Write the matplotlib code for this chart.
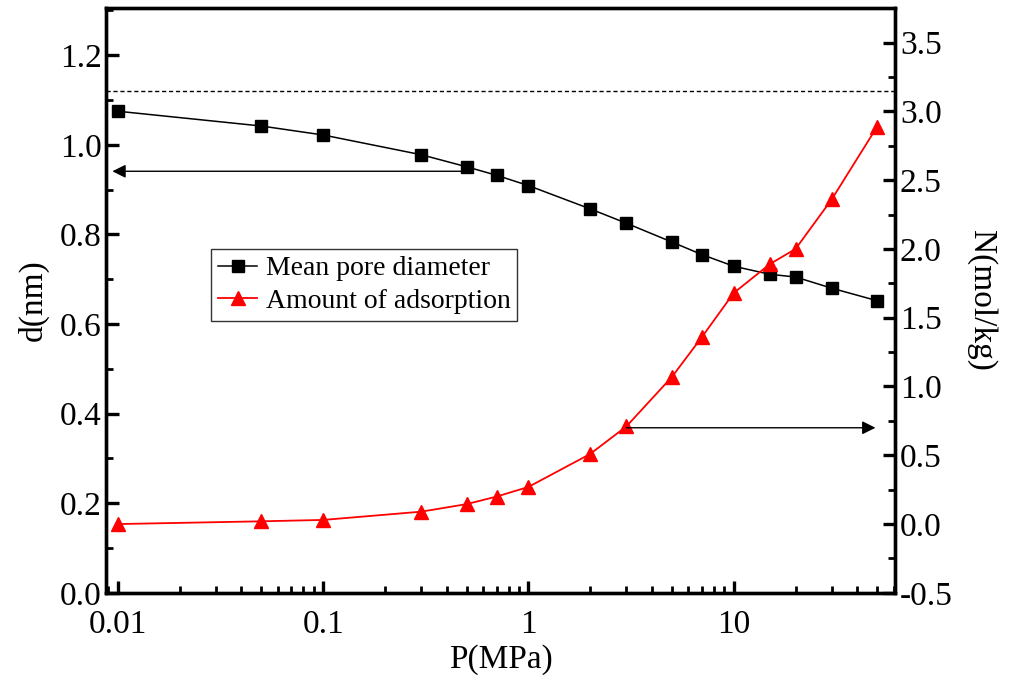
import matplotlib
matplotlib.use("Agg")
import matplotlib.pyplot as plt
from matplotlib.ticker import MultipleLocator, FixedLocator, NullFormatter, FixedFormatter, FuncFormatter

plt.rcParams['font.family'] = ['Liberation Serif', 'DejaVu Serif']

pressure = [0.01, 0.05, 0.1, 0.3, 0.5, 0.7, 1, 2, 3, 5, 7, 10, 15, 20, 30, 50]
diameter = [1.075, 1.042, 1.022, 0.978, 0.951, 0.932, 0.909, 0.857, 0.825, 0.783, 0.755, 0.729, 0.711, 0.705, 0.680, 0.652]
adsorption = [0.00, 0.02, 0.03, 0.09, 0.145, 0.20, 0.27, 0.51, 0.71, 1.07, 1.36, 1.68, 1.89, 2.00, 2.36, 2.89]
ref_diameter = 1.12

xticks = [0.01, 0.1, 1, 10]
xticklabels = ['0.01', '0.1', '1', '10']

fig = plt.figure(figsize=(10.24, 6.83), dpi=100)
ax = fig.add_axes([0.104, 0.132, 0.770, 0.856])
ax2 = ax.twinx()

l1, = ax.plot(pressure, diameter, color='black', lw=1.1, marker='s', ms=9,
              label='Mean pore diameter')
l2, = ax2.plot(pressure, adsorption, color='red', lw=1.3, marker='^', ms=10.5,
               label='Amount of adsorption')
ax.axhline(ref_diameter, color='black', lw=1.0, ls=(0, (3, 2)))

ax.set_xscale('log')
ax.set_xlim(0.0088, 61)
ax.set_ylim(0, 1.305)
ax2.set_ylim(-0.5, 3.75)

ax.xaxis.set_major_locator(FixedLocator(xticks))
ax.xaxis.set_major_formatter(FixedFormatter(xticklabels))
minors = [m * 10.0**e for e in range(-3, 2) for m in range(2, 10)]
ax.xaxis.set_minor_locator(FixedLocator(minors))
ax.xaxis.set_minor_formatter(NullFormatter())

ax.yaxis.set_major_locator(MultipleLocator(0.2))
ax.yaxis.set_minor_locator(MultipleLocator(0.1))
ax2.yaxis.set_major_locator(MultipleLocator(0.5))
ax2.yaxis.set_minor_locator(MultipleLocator(0.25))
ax.yaxis.set_major_formatter(FuncFormatter(lambda v, p: f'{v:.1f}'))
ax2.yaxis.set_major_formatter(FuncFormatter(lambda v, p: f'{v:.1f}'))

fs = 24
for a in (ax, ax2):
    a.tick_params(which='major', direction='in', length=9, width=2.4, labelsize=fs)
    a.tick_params(which='minor', direction='in', length=5, width=2.0)
    for s in a.spines.values():
        s.set_linewidth(2.4)
ax.tick_params(axis='y', which='both', right=False)
ax.tick_params(axis='x', which='both', top=False, pad=12)
ax2.tick_params(axis='x', which='both', top=False, bottom=False)

ax.set_xlabel('P(MPa)', fontsize=fs, labelpad=3)
ax.set_ylabel('d(nm)', fontsize=fs, labelpad=8)
ax2.set_ylabel('N(mol/kg)', fontsize=fs, rotation=-90, labelpad=32)

ax.annotate('', xy=(0.0094, 0.941), xytext=(0.5, 0.941),
            arrowprops=dict(arrowstyle='-|>', color='black', lw=1.0,
                            mutation_scale=20, shrinkA=0, shrinkB=0))
ax2.annotate('', xy=(49, 0.70), xytext=(3, 0.70),
             arrowprops=dict(arrowstyle='-|>', color='black', lw=1.0,
                             mutation_scale=20, shrinkA=0, shrinkB=0))

leg = ax2.legend(handles=[l1, l2], loc='upper left', bbox_to_anchor=(0.133, 0.588),
                 fontsize=20, frameon=True, fancybox=False, edgecolor='black',
                 handlelength=1.4, handletextpad=0.3, borderpad=0.25, labelspacing=0.25,
                 borderaxespad=0)
leg.get_frame().set_linewidth(1.0)

fig.savefig('out.png', dpi=100)
